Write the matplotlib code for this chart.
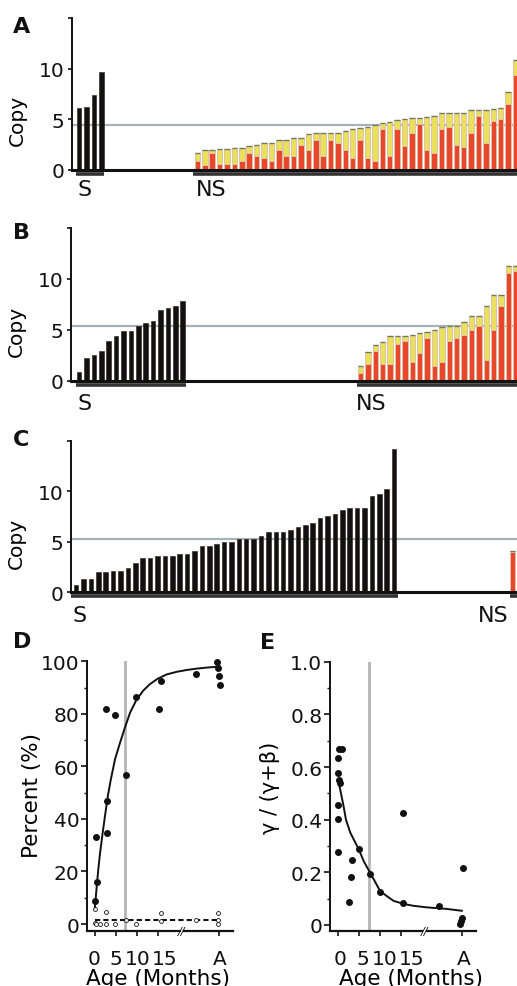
import matplotlib.pyplot as plt
import matplotlib.transforms as mtransforms
import numpy as np

W, H = 517, 987

INK = "#111111"
RED = "#e8472c"
YELLOW = "#ebe05c"
EDGE = "#e0c2aa"
CAP = "#6f7a62"
REF = "#a7b2b8"
VGREY = "#b5b5b5"

plt.rcParams.update({
    "font.family": "DejaVu Sans",
    "text.color": INK,
    "axes.edgecolor": INK,
    "xtick.color": INK,
    "ytick.color": INK,
})

# ---- panel A: copy number, sorted (S) and not sorted (NS) cells
a_s = [6.1, 6.2, 7.4, 9.7]
a_ns_total = [1.7, 1.95, 1.95, 2.1, 2.1, 2.2, 2.2, 2.4, 2.5, 2.7, 2.7, 3.0, 3.0, 3.2, 3.2,
              3.6, 3.7, 3.7, 3.7, 3.7, 3.8, 4.05, 4.1, 4.2, 4.4, 4.6, 4.7, 4.9, 5.05, 5.15,
              5.15, 5.2, 5.3, 5.6, 5.6, 5.6, 5.6, 5.9, 5.9, 5.9, 6.0, 6.1, 7.7, 10.9]
a_ns_red = [0.9, 0.5, 1.7, 0.6, 0.6, 0.6, 0.9, 1.7, 1.4, 1.2, 0.9, 2.0, 1.4, 1.4, 2.5,
            2.0, 3.0, 1.4, 3.0, 2.7, 2.0, 1.2, 3.0, 1.2, 0.85, 4.0, 1.35, 4.0, 2.35, 3.7,
            4.5, 2.0, 1.7, 4.0, 4.2, 2.5, 2.3, 3.7, 5.3, 2.7, 4.8, 5.0, 6.5, 9.4]
a_ref = 4.45

# ---- panel B
b_s = [0.9, 2.2, 2.5, 2.9, 3.9, 4.4, 4.9, 4.9, 5.4, 5.65, 5.9, 6.9, 7.15, 7.35, 7.85]
b_ns_total = [1.4, 2.85, 3.5, 3.75, 4.4, 4.4, 4.4, 4.5, 4.65, 4.75, 5.0, 5.3, 5.4, 5.4,
              5.8, 6.3, 6.3, 7.3, 8.4, 8.4, 11.2, 11.25]
b_ns_red = [0.8, 1.6, 2.9, 1.6, 1.6, 3.6, 3.9, 1.8, 2.7, 4.15, 1.4, 1.8, 3.9, 4.15,
            4.5, 5.0, 5.4, 2.0, 5.0, 7.35, 10.6, 10.75]
b_ref = 5.4

# ---- panel C
c_s = [0.75, 1.3, 1.3, 2.0, 2.0, 2.1, 2.1, 2.4, 2.9, 3.35, 3.35, 3.6, 3.6, 3.6, 3.8,
       3.8, 4.05, 4.6, 4.6, 4.8, 4.95, 5.0, 5.3, 5.3, 5.3, 5.55, 5.95, 5.95, 5.95, 6.15,
       6.5, 6.65, 6.85, 7.35, 7.6, 7.8, 8.1, 8.3, 8.3, 8.3, 9.5, 9.7, 10.2, 14.2]
c_ns_total = [4.1]
c_ns_red = [4.0]
c_ref = 5.3

# ---- panel D: percent vs age (post-break ages are axis positions; A = adult)
d_age = [0, 0.2, 0.6, 2.6, 2.9, 3.0, 4.8, 7.4, 9.8, 15.2, 15.7, 24.0, 29.0, 29.4, 29.6, 29.9]
d_pct = [8.6, 33.3, 15.8, 82, 47, 34.6, 79.6, 56.8, 86.4, 82, 92.5, 95, 99.9, 97.6, 94.4, 90.9]
d_open_age = [0, 0, 0.3, 1.2, 2.6, 2.6, 4.7, 7.4, 9.8, 15.7, 15.7, 24.0, 29.4, 29.4, 29.4]
d_open_pct = [5.7, 0.5, 0.0, 0.0, 4.5, 0.0, 0.0, 1.6, 0.0, 4.0, 1.0, 1.6, 4.0, 1.6, 0.0]
d_fit_age = [0, 0.4, 0.8, 1.2, 1.8, 2.4, 3.1, 3.8, 4.8, 5.9, 7.1, 8.4, 9.9, 11.5, 13.1,
             15.0, 17.1, 19.5, 21.9, 24.2, 26.6, 29.8]
d_fit_pct = [6, 13.5, 20.5, 26.5, 34, 41, 48.8, 55, 62.7, 68.5, 74.5, 80.5, 85.3, 88.8,
             91.3, 93.4, 95, 96, 96.7, 97.2, 97.6, 98]
d_dashed = 1.6
d_vline = 7.1

# ---- panel E: gamma / (gamma + beta) vs age
e_age = [0, 0.4, 1.1, 0, 0.4, 0.6, 0, 0, 0, 2.8, 3.1, 3.4, 5.0, 7.7, 10.1, 15.5, 15.7,
         24.2, 29.9, 29.7, 29.5, 29.2]
e_val = [0.634, 0.669, 0.669, 0.578, 0.549, 0.54, 0.454, 0.403, 0.276, 0.089, 0.181,
         0.248, 0.29, 0.194, 0.127, 0.426, 0.082, 0.073, 0.217, 0.025, 0.015, 0.005]
e_fit_age = [0.3, 1.4, 2.0, 3.0, 4.0, 5.0, 6.3, 7.7, 10.1, 11.7, 13.3, 15.7, 18.0, 21.2,
             26.0, 29.6]
e_fit_val = [0.54, 0.454, 0.40, 0.352, 0.32, 0.289, 0.24, 0.20, 0.13, 0.11, 0.092, 0.08,
             0.073, 0.067, 0.061, 0.054]
e_vline = 7.5

age_ticks = [0, 5, 10, 15, 29.6]
age_labels = ["0", "5", "10", "15", "A"]
AGE_BREAK = 20.75


def px_axes(fig, left, right, top, bottom):
    return fig.add_axes([left / W, 1 - bottom / H, (right - left) / W, (bottom - top) / H])


def copy_panel(ax, s_vals, ns_total, ns_red, ns_start, ref, xlim, s_span, ns_span,
               ns_text_x, text_y):
    ax.set_xlim(*xlim)
    ax.set_ylim(0, 15)
    ax.axhline(ref, color=REF, lw=1.6, zorder=0.5)
    xs = np.arange(len(s_vals))
    ax.bar(xs, s_vals, width=0.62, color=INK, edgecolor="#2a1a14", lw=0.4, zorder=2)
    xn = np.arange(len(ns_total)) + ns_start
    ax.bar(xn, ns_red, width=0.74, color=RED, edgecolor=EDGE, lw=0.7, zorder=2)
    ax.bar(xn, np.array(ns_total) - np.array(ns_red), bottom=ns_red, width=0.74,
           color=YELLOW, edgecolor=EDGE, lw=0.7, zorder=2)
    ax.hlines(ns_total, xn - 0.37, xn + 0.37, color=CAP, lw=1.0, zorder=3)
    for spn in ("top", "right"):
        ax.spines[spn].set_visible(False)
    ax.spines["bottom"].set_linewidth(2.2)
    ax.spines["left"].set_linewidth(1.4)
    ax.spines["bottom"].set_zorder(4)
    ax.set_xticks([])
    ax.set_yticks([0, 5, 10, 15], ["0", "5", "10", ""])
    ax.tick_params(axis="y", length=3, width=1.2, pad=2.5, labelsize=14.5)
    ax.set_ylabel("Copy", fontsize=14.5)
    ax.yaxis.set_label_coords(-0.101, 0.33)
    for (x0, x1), txt, tx in ((s_span, "S", s_span[0] + 0.25), (ns_span, "NS", ns_text_x)):
        ax.plot([x0, x1], [-0.4, -0.4], color="#333333", lw=2.6, clip_on=False,
                solid_capstyle="butt")
        ax.text(tx, text_y, txt, ha="left", va="top", fontsize=16)


def age_panel(ax, ylim, vline, label_shift):
    ax.set_xlim(-1.8, 32.9)
    ax.set_ylim(*ylim)
    ax.axvline(vline, color=VGREY, lw=2, zorder=0.5)
    for spn in ("top", "right", "bottom"):
        ax.spines[spn].set_visible(False)
    ax.spines["left"].set_linewidth(1.4)
    y0 = ylim[0]
    ax.plot([-1.8, AGE_BREAK - 0.55], [y0, y0], color=INK, lw=1.6, clip_on=False)
    ax.plot([AGE_BREAK + 0.55, 32.9], [y0, y0], color=INK, lw=1.6, clip_on=False)
    ax.text(AGE_BREAK, y0, "//", ha="center", va="center", fontsize=8, style="italic")
    ax.set_xticks(age_ticks, age_labels)
    ax.tick_params(axis="x", length=3.5, width=1.2, pad=10, labelsize=14.5)
    ax.tick_params(axis="y", which="major", length=4, width=1.2, pad=1.5, labelsize=14.5)
    ax.tick_params(axis="y", which="minor", length=2.5, width=1.0)
    # tick labels sit a little right of their ticks in the original, "15" most of all
    for lab, dx in zip(ax.get_xticklabels(), label_shift):
        lab.set_transform(lab.get_transform()
                          + mtransforms.ScaledTranslation(dx / 100, 0, ax.figure.dpi_scale_trans))
    ax.set_xlabel("Age (Months)", fontsize=15.5)


fig = plt.figure(figsize=(W / 100, H / 100), dpi=100)

axA = px_axes(fig, 72, 517, 19, 171)
copy_panel(axA, a_s, a_ns_total, a_ns_red, 16, a_ref, (-0.95, 59.2),
           (-0.4, 3.4), (15.4, 60), 15.8, -0.85)

axB = px_axes(fig, 71, 517, 228.7, 381.7)
copy_panel(axB, b_s, b_ns_total, b_ns_red, 38, b_ref, (-1.1, 59.15),
           (-0.45, 14.5), (37.6, 60), 37.4, -1.25)

axC = px_axes(fig, 71, 517, 441.8, 593.3)
copy_panel(axC, c_s, c_ns_total, c_ns_red, 59, c_ref, (-0.68, 59.6),
           (-0.68, 43.5), (58.6, 60), 54.3, -1.25)

axD = px_axes(fig, 87.3, 233, 662.3, 931.7)
age_panel(axD, (-2.55, 100), d_vline, [-1, 0, 0.5, 7, 0.7])
axD.plot(d_fit_age, d_fit_pct, color=INK, lw=1.4, zorder=2)
axD.plot([0, 29.6], [d_dashed, d_dashed], color=INK, lw=1.5, ls=(0, (2.5, 1.5)), zorder=2)
axD.plot(d_open_age, d_open_pct, "o", ms=2.8, mfc="white", mec=INK, mew=0.6,
         zorder=3, clip_on=False)
axD.plot(d_age, d_pct, "o", ms=4, color=INK, zorder=4, clip_on=False)
axD.set_yticks([0, 20, 40, 60, 80, 100])
axD.set_yticks([10, 30, 50, 70, 90], minor=True)
axD.set_ylabel("Percent (%)", fontsize=15.5)
axD.yaxis.set_label_coords(-0.311, 0.507)
axD.xaxis.set_label_coords(0.485, -0.138)

axE = px_axes(fig, 330, 475.7, 662.7, 931.7)
age_panel(axE, (-0.0217, 1.0), e_vline, [2.5, 4.5, 5.5, 11, 2.2])
axE.plot(e_fit_age, e_fit_val, color=INK, lw=1.4, zorder=2)
axE.plot(e_age, e_val, "o", ms=4, color=INK, zorder=4, clip_on=False)
axE.set_yticks([0, 0.2, 0.4, 0.6, 0.8, 1.0], ["0", "0.2", "0.4", "0.6", "0.8", "1.0"])
axE.set_yticks([0.1, 0.3, 0.5, 0.7, 0.9], minor=True)
axE.set_ylabel("γ / (γ+β)", fontsize=15)
axE.yaxis.set_label_coords(-0.343, 0.534)
axE.xaxis.set_label_coords(0.556, -0.138)

for letter, x, y in (("A", 13, 17), ("B", 13, 223), ("C", 13, 430), ("D", 13, 632),
                     ("E", 260, 633)):
    fig.text(x / W, 1 - y / H, letter, ha="left", va="top", fontsize=16, fontweight="bold")

fig.savefig("out.png", dpi=100)
